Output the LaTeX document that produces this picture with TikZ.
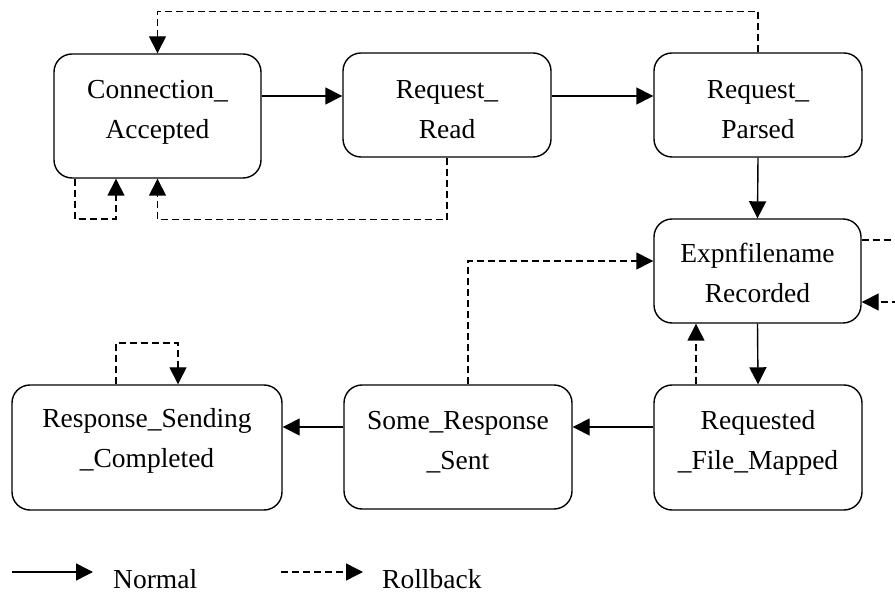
\documentclass[tikz,border=0pt]{standalone}
\usepackage{fontspec}
\setmainfont{Liberation Serif}
\usetikzlibrary{arrows.meta}
\begin{document}
\begin{tikzpicture}[x=1pt,y=-1pt,
  state/.style={draw,line width=1.4pt,rounded corners=18pt,inner sep=0pt},
  caption/.style={anchor=base,align=center,inner sep=0pt,
    font=\fontsize{27.5}{40}\selectfont},
  normal/.style={line width=1.4pt,-{Triangle[length=17pt,width=17pt]}},
  rollback/.style={line width=1.4pt,dash pattern=on 7pt off 4pt,
    -{Triangle[length=17pt,width=17pt]}},
  legendtext/.style={anchor=base west,inner sep=0pt,font=\fontsize{27.5}{32}\selectfont}]
\useasboundingbox (0,0) rectangle (895,593);

% state boxes
\node[state,minimum width=207pt,minimum height=124pt] (ca)  at (157.5,116) {};
\node[state,minimum width=208pt,minimum height=104pt] (rr)  at (447,105)   {};
\node[state,minimum width=208pt,minimum height=104pt] (rp)  at (758,105)   {};
\node[state,minimum width=207pt,minimum height=104pt] (ex)  at (757.5,271) {};
\node[state,minimum width=208pt,minimum height=125pt] (rfm) at (758,447.5) {};
\node[state,minimum width=228pt,minimum height=124pt] (srs) at (458,447)   {};
\node[state,minimum width=270pt,minimum height=125pt] (rsc) at (147,447.5) {};

% state names (anchored on the baseline of the last line)
\node[caption] (caT)  at (157.5,139) {Connection\_\\Accepted};
\node[caption] (rrT)  at (447,139)   {Request\_\\Read};
\node[caption] (rpT)  at (758,139)   {Request\_\\Parsed};
\node[caption] (exT)  at (757.5,303) {Expnfilename\\Recorded};
\node[caption] (rfmT) at (758,470)   {Requested\\\_File\_Mapped};
\node[caption] (srsT) at (458,470)   {Some\_Response\\\_Sent};
\node[caption] (rscT) at (147,468)   {Response\_Sending\\\_Completed};

% normal transitions
\draw[normal] (ca.east |- 0,96) -- (rr.west |- 0,96);
\draw[normal] (rr.east |- 0,96) -- (rp.west |- 0,96);
\draw[normal] (rp.south) -- (ex.north);
\draw[normal] (ex.south) -- (rfm.north);
\draw[normal] (rfm.west |- 0,427) -- (srs.east |- 0,427);
\draw[normal] (srs.west |- 0,427) -- (rsc.east |- 0,427);

% rollback transitions
\draw[rollback] (rp.north) -- ++(0,-41) -| (ca.north);
\draw[rollback] (ca.south -| 75,0) -- (75,219) -| (ca.south -| 116,0);
\draw[rollback] (rr.south) -- ++(0,62) -| (ca.south);
\draw[rollback] (ex.east |- 0,240) -- (910,240) -- (910,302) -- (ex.east |- 0,302);
\draw[rollback] (srs.north -| 468,0) -- (468,261) -- (ex.west |- 0,261);
\draw[rollback] (rfm.north -| 696,0) -- (ex.south -| 696,0);
\draw[rollback] (rsc.north -| 116,0) -- (116,343) -| (rsc.north -| 178,0);

% legend
\coordinate (n1) at (12,572);
\coordinate (n2) at (93,572);
\coordinate (r1) at (281,572);
\coordinate (r2) at (363,572);
\draw[normal] (n1) -- (n2);
\draw[rollback] (r1) -- (r2);
\node[legendtext] (ln) at (113,588) {Normal};
\node[legendtext] (lr) at (382,588) {Rollback};
\end{tikzpicture}
\end{document}
